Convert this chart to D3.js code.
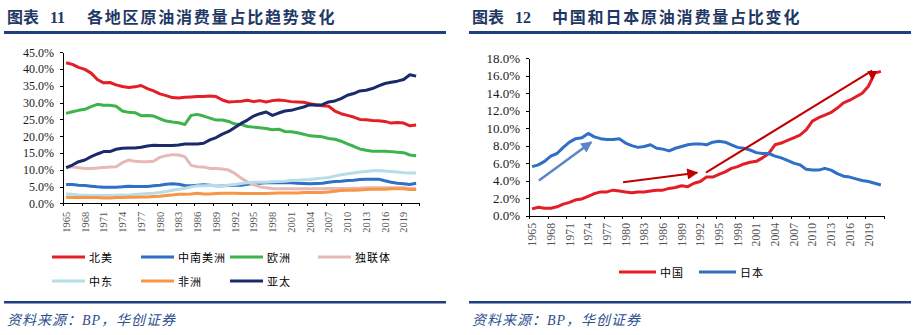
<!DOCTYPE html>
<html>
<head>
<meta charset="UTF-8">
<title>原油消费量占比</title>
<style>
  body { margin: 0; background: #fff; }
  svg { display: block; }
  .title { font-family: 'Liberation Serif', 'Noto Sans CJK SC'; font-weight: bold; font-size: 16px; fill: #1f3864; }
  .source { font-family: 'Liberation Serif', 'Noto Sans CJK SC'; font-style: italic; font-size: 14px; fill: #2d4f8e; letter-spacing: 1px; }
  .axis text { font-family: 'Liberation Serif'; fill: #1a1a1a; }
  .axis path, .axis line { stroke: #000; shape-rendering: crispEdges; }
  .legend text { font-family: 'Noto Sans CJK SC'; font-size: 11px; fill: #000; letter-spacing: 1px; }
</style>
</head>
<body>
<script src="https://cdn.jsdelivr.net/npm/d3@7"></script>
<script>
const years = [1965,1966,1967,1968,1969,1970,1971,1972,1973,1974,
  1975,1976,1977,1978,1979,1980,1981,1982,1983,1984,
  1985,1986,1987,1988,1989,1990,1991,1992,1993,1994,
  1995,1996,1997,1998,1999,2000,2001,2002,2003,2004,
  2005,2006,2007,2008,2009,2010,2011,2012,2013,2014,
  2015,2016,2017,2018,2019,2020,2021];

// share of world oil consumption, %
const northAmerica = [41.9,41.4,40.5,39.9,38.8,36.9,35.9,36.0,35.3,34.8,
  34.5,34.7,35.1,34.2,33.5,32.6,32.1,31.5,31.4,31.6,
  31.7,31.8,31.8,32.0,31.8,30.8,30.2,30.3,30.4,30.7,
  30.3,30.6,30.2,30.6,30.8,30.6,30.3,30.2,30.1,29.7,
  29.4,29.1,28.9,27.5,26.7,26.2,25.7,25.0,24.9,24.7,
  24.6,24.4,23.9,24.1,23.9,23.1,23.3];
const southCentralAmerica = [5.6,5.6,5.4,5.3,5.1,4.9,4.8,4.8,4.8,4.9,
  5.1,5.0,5.0,5.0,5.2,5.4,5.7,5.8,5.7,5.3,
  5.2,5.4,5.5,5.4,5.2,5.2,5.3,5.4,5.4,5.7,
  5.9,6.0,6.1,6.1,6.1,6.1,6.1,6.0,5.9,5.8,
  5.9,6.0,6.3,6.5,6.6,6.8,6.9,7.1,7.2,7.2,
  7.2,6.7,6.3,6.0,5.8,5.6,6.0];
const europe = [26.8,27.3,27.7,28.0,28.8,29.5,29.2,29.2,28.9,27.5,
  27.1,27.0,26.1,26.2,26.0,25.2,24.5,24.2,24.0,23.5,
  26.2,26.5,26.0,25.4,24.8,24.8,24.4,23.6,23.5,22.9,
  22.7,22.5,22.3,21.9,22.1,21.4,21.3,21.0,20.6,20.1,
  20.0,19.8,19.3,19.1,18.5,17.7,17.0,16.2,15.8,15.5,
  15.5,15.5,15.4,15.2,15.1,14.4,14.2];
const cis = [10.6,10.9,10.6,10.4,10.4,10.5,10.7,10.8,10.9,12.1,
  12.9,12.5,12.4,12.4,12.5,13.7,14.2,14.5,14.4,13.9,
  11.3,10.9,10.8,10.4,10.4,10.2,9.9,8.9,7.5,6.4,
  5.6,4.9,4.6,4.4,4.3,4.3,4.3,4.3,4.3,4.3,
  4.3,4.3,4.4,4.4,4.4,4.4,4.5,4.5,4.6,4.6,
  4.6,4.6,4.6,4.6,4.6,4.4,4.5];
const middleEast = [2.8,2.7,2.5,2.4,2.3,2.3,2.3,2.3,2.4,2.5,
  2.4,2.6,2.8,2.9,3.0,3.2,3.5,3.9,4.2,4.5,
  4.9,5.2,5.2,5.3,5.3,5.2,5.4,5.6,5.9,6.1,
  6.3,6.3,6.3,6.4,6.5,6.6,6.8,6.9,7.0,7.1,
  7.3,7.5,7.7,8.1,8.5,8.8,9.0,9.3,9.5,9.7,
  9.8,9.6,9.5,9.3,9.1,9.0,9.0];
const africa = [1.8,1.7,1.7,1.7,1.7,1.7,1.6,1.6,1.7,1.7,
  1.8,1.8,1.9,1.9,2.0,2.1,2.3,2.5,2.7,2.7,
  2.8,3.0,2.8,2.8,2.9,3.0,3.0,3.0,2.9,2.9,
  2.9,2.9,2.9,3.0,3.1,3.1,3.1,3.1,3.2,3.2,
  3.2,3.2,3.4,3.6,3.8,3.9,3.9,4.0,4.1,4.2,
  4.2,4.2,4.3,4.3,4.3,4.1,4.1];
const asiaPacific = [10.6,11.4,12.4,12.9,13.9,14.7,15.4,15.4,16.1,16.4,
  16.5,16.5,16.7,17.1,17.3,17.2,17.2,17.2,17.4,17.7,
  17.7,17.7,17.9,18.9,19.6,20.6,21.4,22.6,23.8,24.8,
  26.0,26.7,27.2,26.2,26.9,27.5,27.7,28.2,28.7,29.4,
  29.2,29.4,30.2,30.5,31.2,32.2,32.7,33.5,33.7,34.2,
  35.0,35.7,36.1,36.4,36.9,38.3,37.9];

const china = [0.76,0.95,0.84,0.84,1.0,1.3,1.5,1.8,1.9,2.2,
  2.5,2.7,2.7,2.9,2.8,2.7,2.6,2.7,2.7,2.8,
  2.9,2.9,3.1,3.2,3.4,3.3,3.7,3.9,4.4,4.4,
  4.7,5.0,5.4,5.6,5.9,6.1,6.2,6.6,7.1,8.1,
  8.3,8.6,8.9,9.2,9.8,10.8,11.2,11.5,11.8,12.3,
  12.9,13.2,13.6,14.0,14.8,16.3,16.5];
const japan = [5.6,5.8,6.2,6.8,7.1,7.8,8.4,8.8,8.9,9.4,
  9.0,8.8,8.7,8.7,8.8,8.3,8.0,7.8,7.9,8.1,
  7.7,7.6,7.4,7.7,7.9,8.1,8.2,8.2,8.1,8.4,
  8.5,8.4,8.1,7.8,7.7,7.5,7.2,7.1,7.1,6.8,
  6.6,6.3,6.0,5.8,5.3,5.2,5.2,5.4,5.2,4.8,
  4.5,4.4,4.2,4.0,3.9,3.7,3.5];

const regionNames = ['北美','中南美洲','欧洲','独联体','中东','非洲','亚太'];
const countryNames = ['中国','日本'];
const leftTicks = [0,5,10,15,20,25,30,35,40,45];
const rightTicks = [0,2,4,6,8,10,12,14,16,18];

// trend arrows on the China / Japan panel: [year, %] start and end
const arrowJapan = [[1966.1, 4.0], [1974.5, 8.4]];
const arrowChinaEarly = [[1979.6, 3.8], [1991.5, 4.9]];
const arrowChinaLate = [[1992.9, 4.9], [2019.6, 16.6]];

const svg = d3.select('body').append('svg')
  .attr('width', 918)
  .attr('height', 335);

const defs = svg.append('defs');
function arrowMarker(id, color, orient, refX, w, h) {
  defs.append('marker')
    .attr('id', id)
    .attr('viewBox', '0 0 10 10')
    .attr('refX', refX).attr('refY', 5)
    .attr('markerUnits', 'userSpaceOnUse')
    .attr('markerWidth', w).attr('markerHeight', h)
    .attr('orient', orient)
    .append('path')
    .attr('d', 'M0,0 L10,5 L0,10 Z')
    .attr('fill', color);
}
arrowMarker('head-red', '#c00000', 'auto', 9, 13, 11);
arrowMarker('head-blue', '#5a86c8', 'auto', 9, 13, 11);
// the long arrow ends in a head that hangs straight down
arrowMarker('head-down', '#c00000', 90, 0, 10, 12);

// headers and footers
function frame(x0, x1, num, text) {
  const t = svg.append('text').attr('class', 'title').attr('y', 23);
  t.append('tspan').attr('x', x0 + 3).text('图表');
  t.append('tspan').attr('x', x0 + 46).text(num);
  t.append('tspan').attr('x', x0 + 83).attr('letter-spacing', '1.8px').text(text);
  svg.append('rect').attr('x', x0).attr('y', 31).attr('width', x1 - x0).attr('height', 3).attr('fill', '#1f3f80');
  svg.append('rect').attr('x', x0).attr('y', 301).attr('width', x1 - x0).attr('height', 2.5).attr('fill', '#1f3f80');
  svg.append('text').attr('class', 'source').attr('x', x0 + 3).attr('y', 325).text('资料来源：BP，华创证券');
}
frame(4, 446, '11', '各地区原油消费量占比趋势变化');
frame(469, 911, '12', '中国和日本原油消费量占比变化');

function panel(opt) {
  const x = d3.scaleLinear()
    .domain([years[0] - 0.5, years[years.length - 1] + 0.5])
    .range([opt.left, opt.right]);
  const y = d3.scaleLinear().domain([0, opt.max]).range([opt.bottom, opt.top]);

  svg.append('g').attr('class', 'axis')
    .attr('transform', `translate(${opt.left},0)`)
    .call(d3.axisLeft(y).tickValues(opt.yTicks).tickSize(3).tickSizeOuter(0).tickPadding(6)
      .tickFormat(d => d.toFixed(1) + '%'))
    .call(g => g.selectAll('text').style('font-size', opt.yFont + 'px'));

  // tick marks between every third category
  const edges = years.filter((d, i) => i % 3 === 0).map(d => d - 0.5)
    .concat([years[years.length - 1] + 0.5]);
  svg.append('g').attr('class', 'axis')
    .attr('transform', `translate(0,${opt.bottom})`)
    .call(d3.axisBottom(x).tickValues(edges).tickSize(3).tickSizeOuter(0).tickFormat(''));

  svg.append('g').attr('class', 'axis')
    .selectAll('text')
    .data(years.filter((d, i) => i % 3 === 0))
    .join('text')
    .attr('transform', d => `translate(${x(d) + opt.xFont * 0.35},${opt.bottom + opt.labelGap}) rotate(-90)`)
    .attr('text-anchor', 'end')
    .style('font-size', opt.xFont + 'px')
    .style('fill', '#555')
    .text(d => d);

  const line = d3.line()
    .x((d, i) => x(years[i]))
    .y(d => y(d));

  opt.series.forEach(s => {
    svg.append('path')
      .datum(s.values)
      .attr('fill', 'none')
      .attr('stroke', s.color)
      .attr('stroke-width', 3)
      .attr('stroke-linejoin', 'round')
      .attr('d', line);
  });

  const legend = svg.append('g').attr('class', 'legend');
  opt.series.forEach((s, i) => {
    const [lx, ly] = opt.legendPos[i];
    legend.append('line')
      .attr('x1', lx).attr('x2', lx + opt.legendLen)
      .attr('y1', ly).attr('y2', ly)
      .attr('stroke', s.color).attr('stroke-width', 3);
    legend.append('text')
      .attr('x', lx + opt.legendLen + 4).attr('y', ly)
      .attr('dominant-baseline', 'central')
      .text(s.name);
  });

  return { x, y };
}

panel({
  left: 63, right: 419.25, top: 52.3, bottom: 203.3, max: 45,
  yTicks: leftTicks, yFont: 12, xFont: 10.5, labelGap: 8.5,
  legendLen: 33,
  legendPos: [[52, 257], [141, 257], [230, 257], [318, 257], [52, 281], [141, 281], [230, 281]],
  series: [
    { name: regionNames[0], values: northAmerica, color: '#e41e26' },
    { name: regionNames[1], values: southCentralAmerica, color: '#2f6fc6' },
    { name: regionNames[2], values: europe, color: '#3cb44b' },
    { name: regionNames[3], values: cis, color: '#e6b8b7' },
    { name: regionNames[4], values: middleEast, color: '#b7dde8' },
    { name: regionNames[5], values: africa, color: '#f79646' },
    { name: regionNames[6], values: asiaPacific, color: '#1b2a6b' }
  ]
});

const right = panel({
  left: 529, right: 884, top: 58.3, bottom: 215.5, max: 18,
  yTicks: rightTicks, yFont: 13, xFont: 11.7, labelGap: 7.5,
  legendLen: 37,
  legendPos: [[619, 272], [699, 272]],
  series: [
    { name: countryNames[0], values: china, color: '#e41e26' },
    { name: countryNames[1], values: japan, color: '#2f6fc6' }
  ]
});

function arrow(pts, color, marker, width) {
  svg.append('line')
    .attr('x1', right.x(pts[0][0])).attr('y1', right.y(pts[0][1]))
    .attr('x2', right.x(pts[1][0])).attr('y2', right.y(pts[1][1]))
    .attr('stroke', color)
    .attr('stroke-width', width)
    .attr('marker-end', `url(#${marker})`);
}
arrow(arrowJapan, '#5a86c8', 'head-blue', 2.5);
arrow(arrowChinaEarly, '#c00000', 'head-red', 2);
arrow(arrowChinaLate, '#c00000', 'head-down', 2);
</script>
</body>
</html>
